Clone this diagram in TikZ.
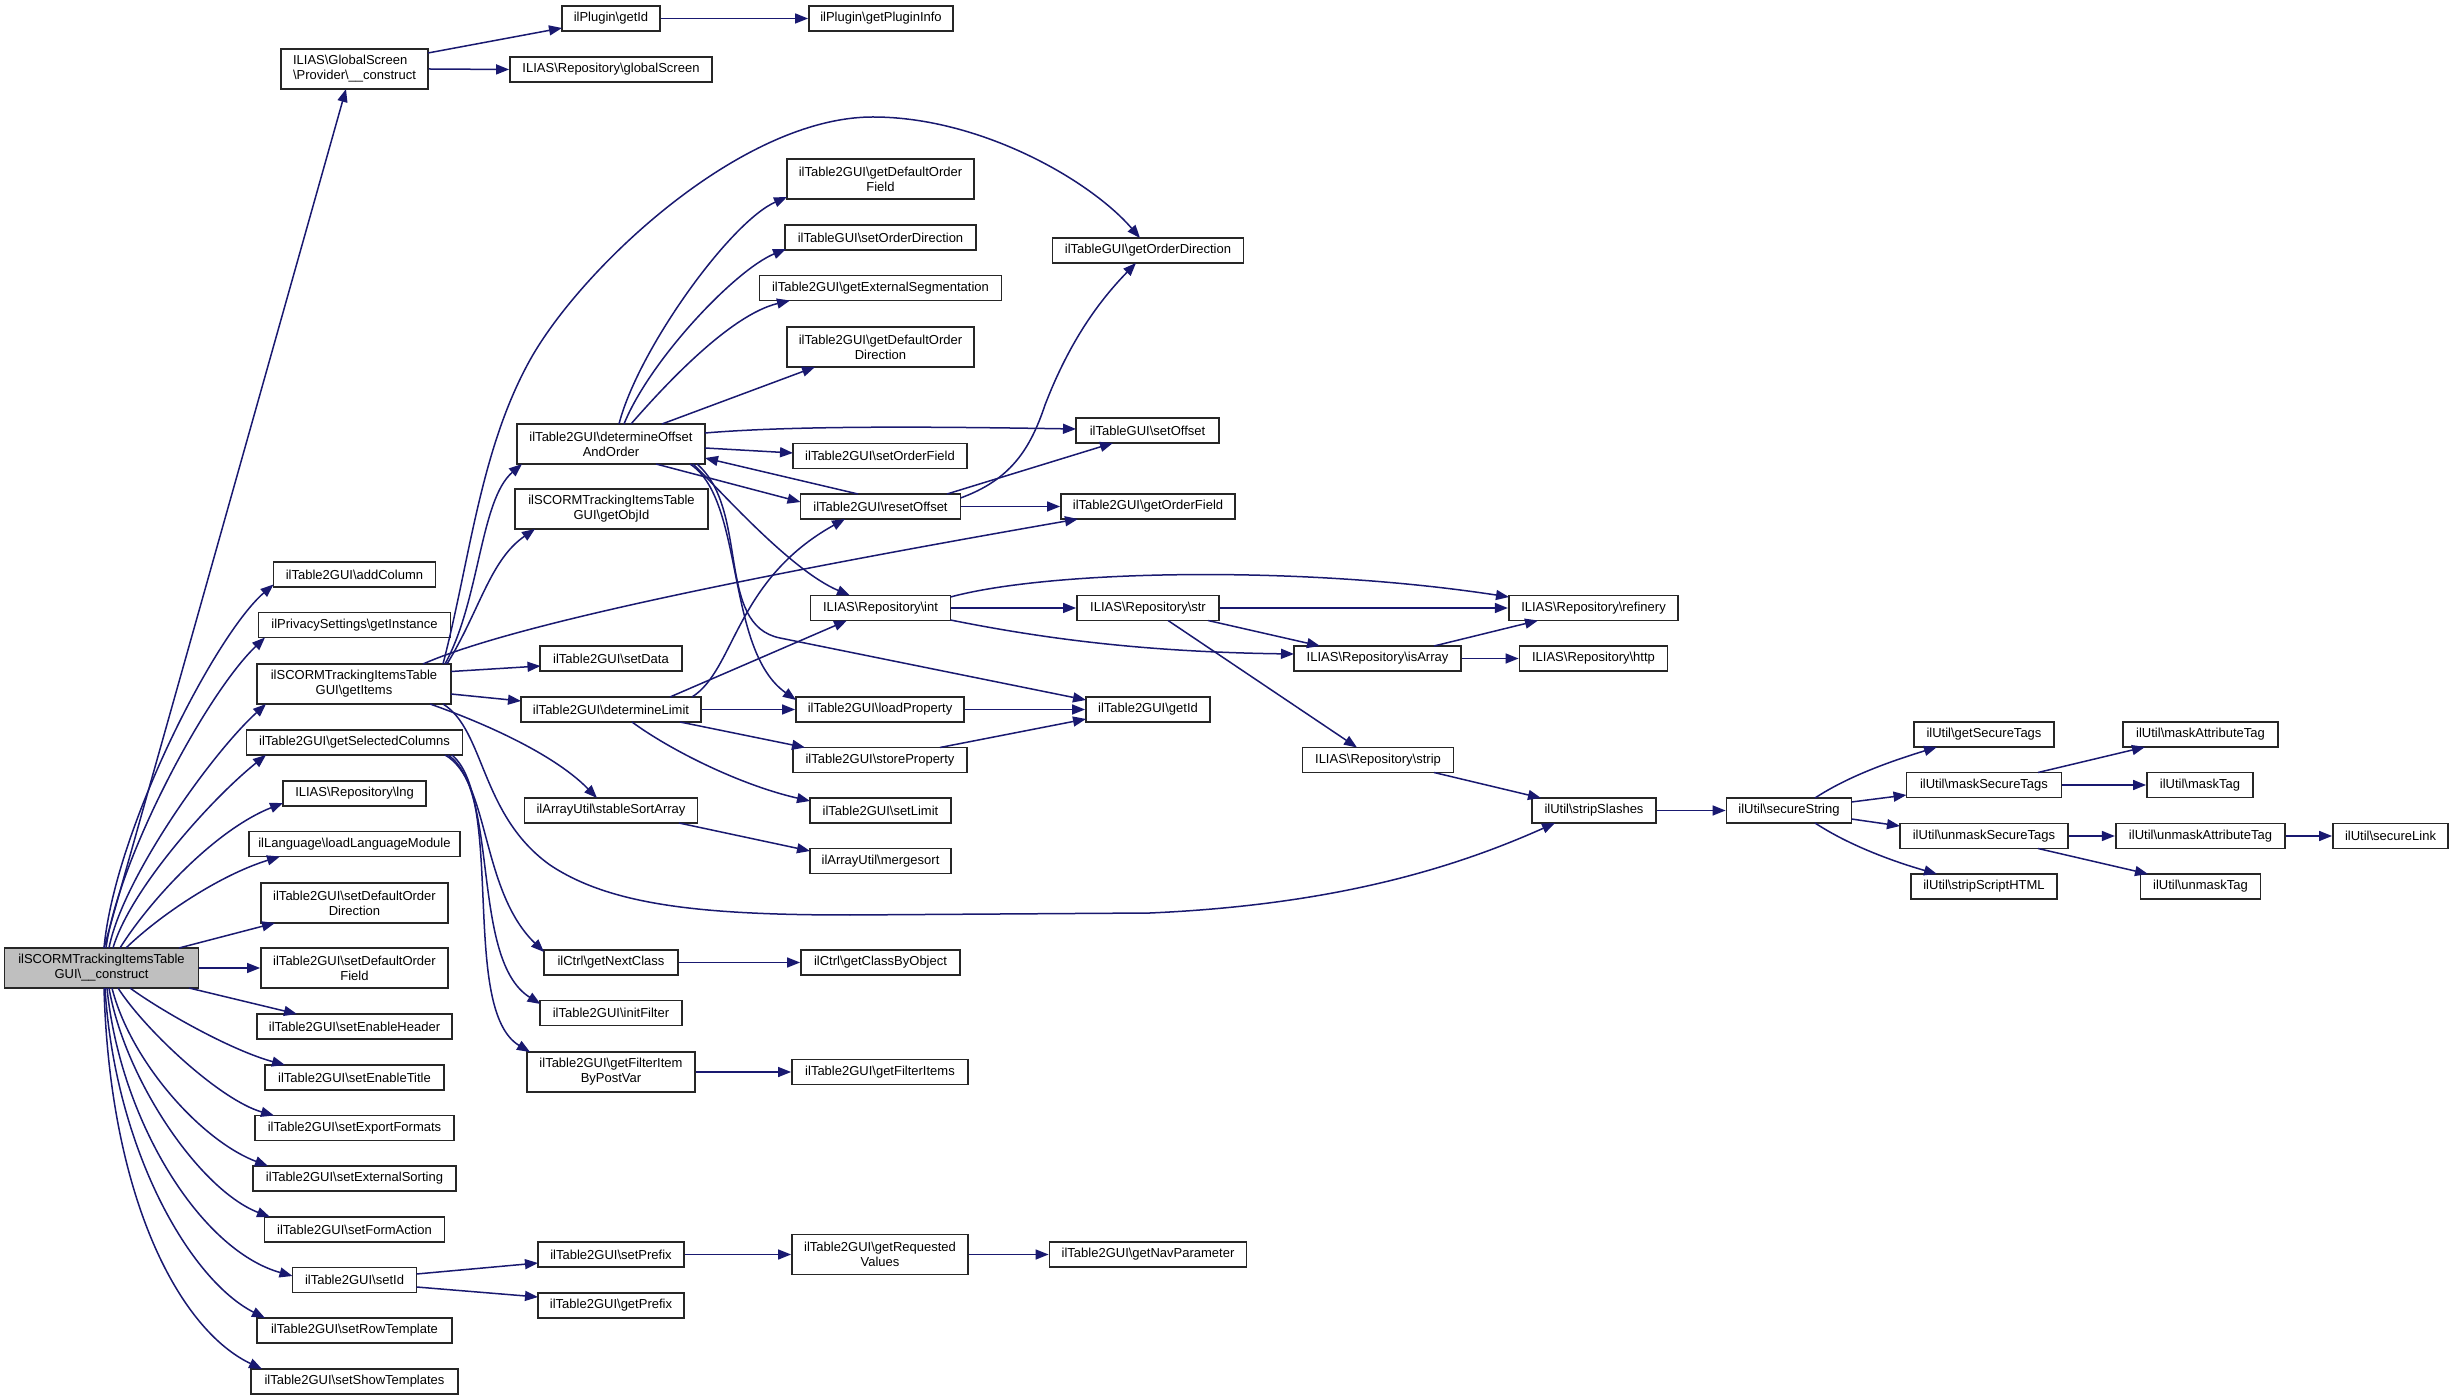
\documentclass[tikz,border=0pt]{standalone}
\usepackage{fontspec}
\newfontfamily\dxfont{Liberation Sans}
\usetikzlibrary{arrows.meta}
\definecolor{edgeblue}{HTML}{191970}
\definecolor{rootgray}{HTML}{BFBFBF}
\newcommand{\bks}{\textbackslash}
\begin{document}
\begin{tikzpicture}[x=0.5pt,y=-0.5pt,
  box/.style={draw=black!85, line width=0.9pt, fill=white, inner sep=0pt, align=center,
    font={\dxfont\fontsize{6.5}{7.5}\selectfont}},
  bw/.style={minimum width=#1*0.5pt},
  one/.style={minimum height=12.5pt},
  two/.style={minimum height=20pt},
  edge/.style={draw=edgeblue, line width=0.75pt, -{Triangle[length=6.5pt,width=5pt]}}]
\fill[white] (0,0) rectangle (2453,1400);
\useasboundingbox (0,0) rectangle (2453,1400);
% nodes
\node[box,bw=194,two,fill=rootgray] (root) at (101.5,968) {ilSCORMTrackingItemsTable\\GUI\bks\_\_construct};
\node[box,bw=147,two,align=left] (gsp) at (354.5,69) {ILIAS\bks GlobalScreen\\\bks Provider\bks\_\_construct};
\node[box,bw=98,one] (pgetid) at (611,18.5) {ilPlugin\bks getId};
\node[box,bw=144,one] (pinfo) at (881,18.5) {ilPlugin\bks getPluginInfo};
\node[box,bw=202,one] (rglob) at (611,69.5) {ILIAS\bks Repository\bks globalScreen};
\node[box,bw=188,two] (doa) at (611,444) {ilTable2GUI\bks determineOffset\\AndOrder};
\node[box,bw=187,two] (gdof) at (880.5,179) {ilTable2GUI\bks getDefaultOrder\\Field};
\node[box,bw=191,one] (sod) at (880.5,237.5) {ilTableGUI\bks setOrderDirection};
\node[box,bw=242,one] (ges) at (880.5,288) {ilTable2GUI\bks getExternalSegmentation};
\node[box,bw=187,two] (gdod) at (880.5,347) {ilTable2GUI\bks getDefaultOrder\\Direction};
\node[box,bw=191,one] (god) at (1148,250.5) {ilTableGUI\bks getOrderDirection};
\node[box,bw=143,one] (soff) at (1147.5,430.5) {ilTableGUI\bks setOffset};
\node[box,bw=174,one] (sof) at (880,456) {ilTable2GUI\bks setOrderField};
\node[box,bw=160,one] (roff) at (880.5,506.5) {ilTable2GUI\bks resetOffset};
\node[box,bw=174,one] (gof) at (1148,506.5) {ilTable2GUI\bks getOrderField};
\node[box,bw=193,two] (objid) at (611.5,509) {ilSCORMTrackingItemsTable\\GUI\bks getObjId};
\node[box,bw=162,one] (addcol) at (354.5,574.5) {ilTable2GUI\bks addColumn};
\node[box,bw=192,one] (inst) at (354.5,625) {ilPrivacySettings\bks getInstance};
\node[box,bw=194,two] (items) at (354,684) {ilSCORMTrackingItemsTable\\GUI\bks getItems};
\node[box,bw=141.5,one] (sdata) at (611,658.5) {ilTable2GUI\bks setData};
\node[box,bw=180,one] (dlim) at (611,709.5) {ilTable2GUI\bks determineLimit};
\node[box,bw=216,one] (selcol) at (354.5,742.5) {ilTable2GUI\bks getSelectedColumns};
\node[box,bw=143,one] (lng) at (354.5,793.5) {ILIAS\bks Repository\bks lng};
\node[box,bw=211,one] (llm) at (354.5,844) {ilLanguage\bks loadLanguageModule};
\node[box,bw=173,one] (ssa) at (611,810.5) {ilArrayUtil\bks stableSortArray};
\node[box,bw=187,two] (sdod) at (354.5,903) {ilTable2GUI\bks setDefaultOrder\\Direction};
\node[box,bw=187,two] (sdof) at (354.5,968) {ilTable2GUI\bks setDefaultOrder\\Field};
\node[box,bw=195,one] (seh) at (354.5,1026.5) {ilTable2GUI\bks setEnableHeader};
\node[box,bw=179,one] (set) at (354.5,1077.5) {ilTable2GUI\bks setEnableTitle};
\node[box,bw=199,one] (sef) at (354.5,1128) {ilTable2GUI\bks setExportFormats};
\node[box,bw=203,one] (ses) at (354.5,1178.5) {ilTable2GUI\bks setExternalSorting};
\node[box,bw=180,one] (sfa) at (354.5,1229.5) {ilTable2GUI\bks setFormAction};
\node[box,bw=124,one] (sid) at (354.5,1280) {ilTable2GUI\bks setId};
\node[box,bw=195,one] (srt) at (354.5,1330.5) {ilTable2GUI\bks setRowTemplate};
\node[box,bw=207,one] (sst) at (354.5,1381.5) {ilTable2GUI\bks setShowTemplates};
\node[box,bw=134,one] (gnc) at (611,962.5) {ilCtrl\bks getNextClass};
\node[box,bw=141.5,one] (ifl) at (611,1013) {ilTable2GUI\bks initFilter};
\node[box,bw=168,two] (gfi) at (611,1072) {ilTable2GUI\bks getFilterItem\\ByPostVar};
\node[box,bw=146,one] (spre) at (611,1254.5) {ilTable2GUI\bks setPrefix};
\node[box,bw=146,one] (gpre) at (611,1305.5) {ilTable2GUI\bks getPrefix};
\node[box,bw=159,one] (gcbo) at (880.5,962.5) {ilCtrl\bks getClassByObject};
\node[box,bw=176,one] (gfitems) at (880,1072) {ilTable2GUI\bks getFilterItems};
\node[box,bw=176,two] (grv) at (880,1254.5) {ilTable2GUI\bks getRequested\\Values};
\node[box,bw=197,one] (gnp) at (1148,1254.5) {ilTable2GUI\bks getNavParameter};
\node[box,bw=140,one] (rint) at (880.5,608) {ILIAS\bks Repository\bks int};
\node[box,bw=142,one] (rstr) at (1148,608) {ILIAS\bks Repository\bks str};
\node[box,bw=167,one] (isarr) at (1377.5,658.5) {ILIAS\bks Repository\bks isArray};
\node[box,bw=168,one] (lprop) at (880,709.5) {ilTable2GUI\bks loadProperty};
\node[box,bw=124,one] (getid) at (1148,709.5) {ilTable2GUI\bks getId};
\node[box,bw=174,one] (sprop) at (880,760) {ilTable2GUI\bks storeProperty};
\node[box,bw=151,one] (strip) at (1378,760) {ILIAS\bks Repository\bks strip};
\node[box,bw=141,one] (slim) at (880.5,810.5) {ilTable2GUI\bks setLimit};
\node[box,bw=141,one] (merge) at (880.5,861) {ilArrayUtil\bks mergesort};
\node[box,bw=169.5,one] (refin) at (1593.5,608) {ILIAS\bks Repository\bks refinery};
\node[box,bw=148,one] (http) at (1593.5,658.5) {ILIAS\bks Repository\bks http};
\node[box,bw=124,one] (sslash) at (1594,810.5) {ilUtil\bks stripSlashes};
\node[box,bw=125,one] (sstr) at (1789,810.5) {ilUtil\bks secureString};
\node[box,bw=140,one] (gst) at (1984,734.5) {ilUtil\bks getSecureTags};
\node[box,bw=155,one] (mst) at (1984,785) {ilUtil\bks maskSecureTags};
\node[box,bw=168,one] (umst) at (1984,836) {ilUtil\bks unmaskSecureTags};
\node[box,bw=146,one] (ssh) at (1984,886.5) {ilUtil\bks stripScriptHTML};
\node[box,bw=155,one] (mat) at (2200.5,734.5) {ilUtil\bks maskAttributeTag};
\node[box,bw=106,one] (mtag) at (2200,785) {ilUtil\bks maskTag};
\node[box,bw=169.5,one] (umat) at (2200.5,836) {ilUtil\bks unmaskAttributeTag};
\node[box,bw=120,one] (umtag) at (2200.5,886.5) {ilUtil\bks unmaskTag};
\node[box,bw=115,one] (slink) at (2390.5,836) {ilUtil\bks secureLink};
% edges from root
\draw[edge] ([shift={(2.5,-20)}]root.center) -- ([shift={(-8.5,20)}]gsp.center);
\draw[edge] ([shift={(2.5,-20)}]root.center) .. controls (115,830) and (215,635) .. ([shift={(-81,10)}]addcol.center);
\draw[edge] ([shift={(4.5,-20)}]root.center) .. controls (118,860) and (205,695) .. ([shift={(-89.5,12.5)}]inst.center);
\draw[edge] ([shift={(7.5,-20)}]root.center) .. controls (122,880) and (210,755) .. ([shift={(-88,20)}]items.center);
\draw[edge] ([shift={(11.5,-20)}]root.center) .. controls (130,890) and (210,800) .. ([shift={(-88.5,12.5)}]selcol.center);
\draw[edge] ([shift={(18.5,-20)}]root.center) .. controls (150,900) and (215,830) .. ([shift={(-71.5,9.5)}]lng.center);
\draw[edge] ([shift={(24.5,-20)}]root.center) .. controls (160,915) and (220,875) .. ([shift={(-74.5,12.5)}]llm.center);
\draw[edge] ([shift={(77.5,-20)}]root.center) -- ([shift={(-79.5,20)}]sdod.center);
\draw[edge] (root.east) -- (sdof.west);
\draw[edge] ([shift={(87.5,20)}]root.center) -- ([shift={(-57.5,-12.5)}]seh.center);
\draw[edge] ([shift={(28.5,20)}]root.center) .. controls (160,1010) and (230,1050) .. ([shift={(-69.5,-12.5)}]set.center);
\draw[edge] ([shift={(16.5,20)}]root.center) .. controls (145,1030) and (220,1100) .. ([shift={(-80.5,-12.5)}]sef.center);
\draw[edge] ([shift={(10.5,20)}]root.center) .. controls (130,1060) and (200,1140) .. ([shift={(-86.5,-12.5)}]ses.center);
\draw[edge] ([shift={(7.5,20)}]root.center) .. controls (125,1080) and (200,1190) .. ([shift={(-84.5,-12.5)}]sfa.center);
\draw[edge] ([shift={(5.5,20)}]root.center) .. controls (120,1120) and (200,1250) .. ([shift={(-62,-4)}]sid.center);
\draw[edge] ([shift={(3.5,20)}]root.center) .. controls (115,1150) and (190,1280) .. ([shift={(-89.5,-12.5)}]srt.center);
\draw[edge] ([shift={(2.5,20)}]root.center) .. controls (110,1200) and (180,1330) .. ([shift={(-92.5,-12.5)}]sst.center);
% GlobalScreen
\draw[edge] ([shift={(73.5,-16)}]gsp.center) -- ([shift={(-49,9.5)}]pgetid.center);
\draw[edge] (gsp.east) -- (rglob.west);
\draw[edge] (pgetid.east) -- (pinfo.west);
% determineOffsetAndOrder
\draw[edge] ([shift={(8,-20)}]doa.center) .. controls (638,350) and (730,222) .. ([shift={(-93.5,18)}]gdof.center);
\draw[edge] ([shift={(13,-20)}]doa.center) .. controls (650,360) and (735,270) .. ([shift={(-94.5,11.5)}]sod.center);
\draw[edge] ([shift={(20,-20)}]doa.center) .. controls (665,385) and (730,315) .. ([shift={(-90.5,12.5)}]ges.center);
\draw[edge] ([shift={(51,-20)}]doa.center) -- ([shift={(-65.5,20)}]gdod.center);
\draw[edge] ([shift={(94,-11)}]doa.center) .. controls (800,425) and (950,427) .. ([shift={(-71.5,-1.5)}]soff.center);
\draw[edge] ([shift={(94,4)}]doa.center) -- ([shift={(-87,-3)}]sof.center);
\draw[edge] ([shift={(45,20)}]doa.center) -- ([shift={(-80,-4.5)}]roff.center);
\draw[edge] ([shift={(-22.5,-12.5)}]roff.center) -- ([shift={(94,14)}]doa.center);
\draw[edge] ([shift={(82,20)}]doa.center) .. controls (720,490) and (790,570) .. ([shift={(-30.5,-12.5)}]rint.center);
\draw[edge] ([shift={(79,20)}]doa.center) .. controls (745,500) and (725,650) .. ([shift={(-84,-9.5)}]lprop.center);
\draw[edge] ([shift={(86,20)}]doa.center) .. controls (750,510) and (715,625) .. (780,638) -- ([shift={(-62,-9.5)}]getid.center);
% getItems
\draw[edge] ([shift={(91,-20)}]items.center) .. controls (480,600) and (480,500) .. ([shift={(-89,20)}]doa.center);
\draw[edge] ([shift={(93,-20)}]items.center) .. controls (480,610) and (490,560) .. ([shift={(-76.5,20)}]objid.center);
\draw[edge] ([shift={(89,-20)}]items.center) .. controls (470,560) and (480,450) .. (530,360)
   .. controls (580,270) and (740,117) .. (873,117)
   .. controls (980,117) and (1090,180) .. ([shift={(-8,-12.5)}]god.center);
\draw[edge] ([shift={(97,-12.5)}]items.center) -- ([shift={(-70.5,7.5)}]sdata.center);
\draw[edge] ([shift={(97,10)}]items.center) -- ([shift={(-90,-8.5)}]dlim.center);
\draw[edge] ([shift={(76,20)}]items.center) .. controls (470,718) and (550,750) .. ([shift={(-14,-12.5)}]ssa.center);
\draw[edge] ([shift={(69,-20)}]items.center) .. controls (500,630) and (700,585) .. ([shift={(-70,12.5)}]gof.center);
\draw[edge] ([shift={(89,20)}]items.center) .. controls (485,730) and (480,815) .. (550,865)
   .. controls (610,905) and (700,915) .. (850,915) -- (1150,913)
   .. controls (1330,905) and (1450,870) .. ([shift={(-39,12.5)}]sslash.center);
% determineLimit
\draw[edge] ([shift={(59,-12.5)}]dlim.center) -- ([shift={(-33.5,12.5)}]rint.center);
\draw[edge] ([shift={(81,-12.5)}]dlim.center) .. controls (735,670) and (735,580) .. ([shift={(-35.5,12.5)}]roff.center);
\draw[edge] (dlim.east) -- (lprop.west);
\draw[edge] ([shift={(69,12.5)}]dlim.center) -- ([shift={(-75,-12.5)}]sprop.center);
\draw[edge] ([shift={(21,12.5)}]dlim.center) .. controls (670,750) and (740,785) .. ([shift={(-70.5,-9.5)}]slim.center);
\draw[edge] (lprop.east) -- (getid.west);
\draw[edge] ([shift={(60,-12.5)}]sprop.center) -- ([shift={(-62,9.5)}]getid.center);
\draw[edge] ([shift={(68,12.5)}]ssa.center) -- ([shift={(-70.5,-10)}]merge.center);
% getSelectedColumns
\draw[edge] ([shift={(90.5,12.5)}]selcol.center) .. controls (490,780) and (480,890) .. ([shift={(-67,-10.5)}]gnc.center);
\draw[edge] ([shift={(93.5,12.5)}]selcol.center) .. controls (500,790) and (470,960) .. ([shift={(-70.5,-9)}]ifl.center);
\draw[edge] ([shift={(97.5,12.5)}]selcol.center) .. controls (505,800) and (460,1010) .. ([shift={(-81,-20)}]gfi.center);
\draw[edge] (gnc.east) -- (gcbo.west);
\draw[edge] (gfi.east) -- (gfitems.west);
% setId
\draw[edge] ([shift={(62,-6)}]sid.center) -- ([shift={(-73,8.5)}]spre.center);
\draw[edge] ([shift={(62,7)}]sid.center) -- ([shift={(-73,-8.5)}]gpre.center);
\draw[edge] (spre.east) -- (grv.west);
\draw[edge] (grv.east) -- (gnp.west);
% resetOffset
\draw[edge] (roff.east) -- (gof.west);
\draw[edge] ([shift={(66.5,-12.5)}]roff.center) -- ([shift={(-34.5,12.5)}]soff.center);
\draw[edge] ([shift={(80,-8.5)}]roff.center) .. controls (1010,480) and (1030,450) .. (1045,405)
   .. controls (1070,340) and (1100,300) .. ([shift={(-12,12.5)}]god.center);
% Repository
\draw[edge] ([shift={(70,-11)}]rint.center) .. controls (1050,570) and (1300,565) .. ([shift={(-84.5,-11)}]refin.center);
\draw[edge] (rint.east) -- (rstr.west);
\draw[edge] ([shift={(70,12)}]rint.center) .. controls (1050,640) and (1150,652) .. ([shift={(-83.5,-4.5)}]isarr.center);
\draw[edge] (rstr.east) -- (refin.west);
\draw[edge] ([shift={(60,12.5)}]rstr.center) -- ([shift={(-57.5,-12.5)}]isarr.center);
\draw[edge] ([shift={(20,12.5)}]rstr.center) -- ([shift={(-21,-12.5)}]strip.center);
\draw[edge] ([shift={(56.5,-12.5)}]isarr.center) -- ([shift={(-55.5,12.5)}]refin.center);
\draw[edge] (isarr.east) -- (http.west);
\draw[edge] ([shift={(56,12.5)}]strip.center) -- ([shift={(-53,-12.5)}]sslash.center);
% ilUtil
\draw[edge] (sslash.east) -- (sstr.west);
\draw[edge] ([shift={(26,-12.5)}]sstr.center) .. controls (1850,775) and (1895,760) .. ([shift={(-47,12.5)}]gst.center);
\draw[edge] ([shift={(62.5,-8.5)}]sstr.center) -- ([shift={(-77.5,10)}]mst.center);
\draw[edge] ([shift={(62.5,8.5)}]sstr.center) -- ([shift={(-84,-10)}]umst.center);
\draw[edge] ([shift={(26,12.5)}]sstr.center) .. controls (1850,846) and (1895,862) .. ([shift={(-47,-12.5)}]ssh.center);
\draw[edge] ([shift={(54,-12.5)}]mst.center) -- ([shift={(-55.5,12.5)}]mat.center);
\draw[edge] (mst.east) -- (mtag.west);
\draw[edge] (umst.east) -- (umat.west);
\draw[edge] ([shift={(54,12.5)}]umst.center) -- ([shift={(-52.5,-12.5)}]umtag.center);
\draw[edge] (umat.east) -- (slink.west);
\end{tikzpicture}
\end{document}
